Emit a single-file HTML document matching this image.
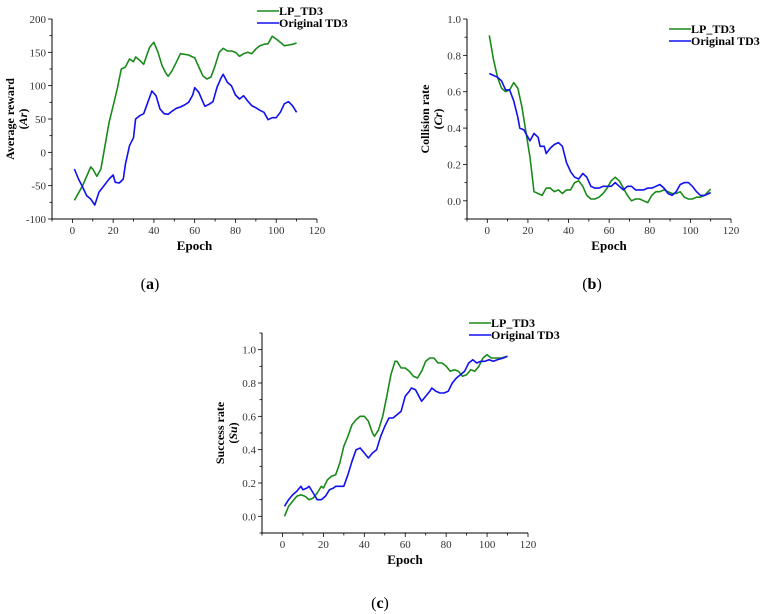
<!DOCTYPE html>
<html><head><meta charset="utf-8">
<style>
body{margin:0;background:#fff;width:761px;height:614px;overflow:hidden}
svg{position:absolute;left:0;top:0}
text{font-family:"Liberation Serif",serif}
</style></head>
<body>
<svg id="fig" width="761" height="614"></svg>
<script>
// ---- Panel (a) data: average reward ----
const aGreenEpochs=[1,5,9,10,12,14,16,18,20,22,24,26,28,30,31,33,35,37,38,40,42,44,46,47,49,51,53,55,57,59,60,62,64,66,68,70,72,74,76,78,80,82,84,86,88,90,92,94,96,98,100,102,104,106,108,110];
const aGreenValues=[-72,-50,-22,-25,-36,-25,10,45,70,95,125,128,140,136,143,138,132,150,158,165,150,130,118,114,123,135,148,147,146,143,142,128,115,110,113,130,150,156,152,152,150,144,148,150,148,155,160,162,163,174,170,165,160,161,162,164];
const aBlueEpochs=[1,3,5,7,9,11,13,15,17,18,20,21,23,25,26,28,30,31,33,35,37,39,41,43,45,47,49,51,53,55,57,59,60,62,64,65,67,69,71,73,74,76,78,80,82,84,86,88,90,92,94,96,98,100,102,104,106,108,110];
const aBlueValues=[-25,-40,-52,-65,-70,-79,-60,-52,-44,-40,-34,-45,-46,-40,-18,10,22,50,55,58,75,92,85,65,58,57,62,66,68,71,75,86,97,90,76,69,72,76,98,112,117,105,100,86,80,85,77,70,67,63,60,49,52,52,60,73,76,70,60];
const aYTicks=[-100,-50,0,50,100,150,200];
// ---- Panel (b) data: collision rate ----
const bGreenEpochs=[1,3,5,7,9,11,13,15,17,19,21,23,25,27,29,31,33,35,37,39,41,43,45,47,49,51,53,55,57,59,61,63,65,67,69,71,73,75,77,79,81,83,85,87,89,91,93,95,97,99,101,103,105,107,110];
const bGreenValues=[0.91,0.78,0.68,0.62,0.60,0.61,0.65,0.62,0.52,0.38,0.24,0.05,0.04,0.03,0.07,0.07,0.05,0.06,0.04,0.06,0.06,0.10,0.11,0.08,0.03,0.01,0.01,0.02,0.04,0.07,0.11,0.13,0.11,0.07,0.03,0.00,0.01,0.01,0.00,-0.01,0.03,0.05,0.05,0.06,0.05,0.04,0.04,0.05,0.02,0.01,0.01,0.02,0.02,0.03,0.065];
const bBlueEpochs=[1,3,5,7,9,11,13,15,16,18,20,21,23,25,26,28,29,31,33,35,37,39,41,43,45,47,49,51,53,55,57,59,61,63,65,67,69,71,73,75,77,79,81,83,85,87,89,91,93,95,97,99,101,103,105,107,110];
const bBlueValues=[0.70,0.69,0.68,0.66,0.61,0.61,0.55,0.46,0.40,0.39,0.35,0.33,0.37,0.35,0.30,0.30,0.26,0.29,0.31,0.32,0.30,0.21,0.16,0.13,0.12,0.15,0.13,0.08,0.07,0.07,0.08,0.08,0.08,0.10,0.08,0.06,0.08,0.08,0.06,0.06,0.06,0.07,0.07,0.08,0.09,0.07,0.04,0.03,0.05,0.09,0.10,0.10,0.08,0.05,0.03,0.03,0.045];
const bYTicks=[0.0,0.2,0.4,0.6,0.8,1.0];
// ---- Panel (c) data: success rate ----
const cGreenEpochs=[1,3,5,7,9,11,13,15,17,19,20,22,24,26,28,30,32,34,36,38,40,42,44,45,47,49,51,53,55,56,58,60,62,64,66,68,70,72,74,76,78,80,82,84,86,88,90,92,94,96,98,100,102,104,107,110];
const cGreenValues=[0.0,0.06,0.09,0.12,0.13,0.12,0.10,0.11,0.14,0.18,0.17,0.22,0.24,0.25,0.32,0.42,0.48,0.55,0.58,0.60,0.60,0.57,0.50,0.48,0.52,0.60,0.72,0.85,0.93,0.93,0.89,0.89,0.87,0.84,0.83,0.87,0.93,0.95,0.95,0.92,0.92,0.90,0.87,0.88,0.87,0.84,0.85,0.88,0.87,0.90,0.95,0.97,0.95,0.95,0.95,0.96];
const cBlueEpochs=[1,3,5,7,9,10,12,13,15,17,19,21,23,25,26,28,30,32,34,36,38,40,42,44,46,48,50,52,54,56,58,60,62,63,65,68,70,72,73,75,77,79,81,83,85,87,89,91,93,95,97,99,101,103,105,108,110];
const cBlueValues=[0.06,0.10,0.13,0.15,0.18,0.16,0.17,0.18,0.14,0.10,0.10,0.12,0.16,0.17,0.18,0.18,0.18,0.25,0.33,0.40,0.41,0.38,0.35,0.38,0.40,0.48,0.54,0.59,0.59,0.61,0.63,0.72,0.75,0.77,0.76,0.69,0.72,0.75,0.77,0.75,0.74,0.74,0.75,0.80,0.83,0.85,0.87,0.92,0.94,0.92,0.93,0.93,0.94,0.93,0.94,0.95,0.96];
const cYTicks=[0.0,0.2,0.4,0.6,0.8,1.0];
const xTicks=[0,20,40,60,80,100,120];

const NS="http://www.w3.org/2000/svg";
const svg=document.getElementById('fig');
function mk(tag,attrs,parent){const e=document.createElementNS(NS,tag);for(const k in attrs)e.setAttribute(k,attrs[k]);(parent||svg).appendChild(e);return e;}

function panel(p){
  const g=mk('g',{});
  
  
  const sx=v=>p.x0+(v-p.xd[0])/(p.xd[1]-p.xd[0])*(p.x1-p.x0);
  const sy=v=>p.y0+(v-p.yd[0])/(p.yd[1]-p.yd[0])*(p.y1-p.y0);
  const ax=mk('path',{d:`M${p.x0},${p.y1}V${p.y0}H${p.x1}`,stroke:'#000','stroke-width':1,fill:'none'},g);
  
  
  for(let v=-10;v<=120;v+=10){
    const X=sx(v);const major=v%20===0;
    mk('line',{x1:X,x2:X,y1:p.y0,y2:p.y0+(major?4:2.5),stroke:'#000','stroke-width':0.8},g);
  }
  xTicks.forEach(v=>{
    const t=mk('text',{x:sx(v),y:p.y0+15,'font-size':11,'text-anchor':'middle',fill:'#333'},g);
    t.textContent=v;
    
    
  });
  const step=p.yTicks[1]-p.yTicks[0];
  for(let i=0;i<p.yTicks.length;i++){
    const v=p.yTicks[i];
    mk('line',{x1:p.x0-4,x2:p.x0,y1:sy(v),y2:sy(v),stroke:'#000','stroke-width':0.8},g);
    const m=v+step/2; if(sy(m)>=p.y1-0.5) mk('line',{x1:p.x0-2.5,x2:p.x0,y1:sy(m),y2:sy(m),stroke:'#000','stroke-width':0.8},g);
    if(i===0){const m2=v-step/2; if(sy(m2)<=p.y0+0.5) mk('line',{x1:p.x0-2.5,x2:p.x0,y1:sy(m2),y2:sy(m2),stroke:'#000','stroke-width':0.8},g);}
    const t=mk('text',{x:p.x0-6,y:sy(v)+4,'font-size':11,'text-anchor':'end',fill:'#333'},g);
    t.textContent=p.dec?v.toFixed(1):v;
    
    
  }
  const xt=mk('text',{x:(p.x0+p.x1)/2+10,y:p.y0+31,'font-size':13,'font-weight':'bold','text-anchor':'middle'},g);
  xt.textContent='Epoch';
  
  
  const ym=(p.y0+p.y1)/2;
  const yt=mk('text',{x:0,y:0,'font-size':12,'font-weight':'bold','text-anchor':'middle',transform:`translate(${p.x0-38},${ym}) rotate(-90)`},g);
  yt.textContent=p.ytitle;
  
  
  const yt2=mk('text',{x:0,y:0,'font-size':12,'font-weight':'bold','text-anchor':'middle',transform:`translate(${p.x0-25},${ym}) rotate(-90)`},g);
  yt2.innerHTML='(<tspan font-style="italic">'+p.sym+'</tspan>)';
  
  
  const series=[[p.gE,p.gV,'#1a8a1a','lp-td3-line'],[p.bE,p.bV,'#1010f0','original-td3-line']];
  series.forEach(s=>{
    const d=s[0].map((e,i)=>(i?'L':'M')+sx(e).toFixed(1)+','+sy(s[1][i]).toFixed(1)).join('');
    const l=mk('path',{d:d,stroke:s[2],'stroke-width':1.6,fill:'none','stroke-linejoin':'round'},g);
    
    
  });
  [['LP_TD3','#1a8a1a',p.lg[1]],['Original TD3','#1010f0',p.lg[1]+12]].forEach((L,i)=>{
    const lg=mk('g',{},g);
    
    
    mk('line',{x1:p.lg[0],x2:p.lg[0]+22,y1:L[2],y2:L[2],stroke:L[1],'stroke-width':1.5},lg);
    const t=mk('text',{x:p.lg[0]+22,y:L[2]+4,'font-size':12,'font-weight':'bold'},lg);
    t.textContent=L[0];
  });
  const lab=mk('text',{x:p.lab[0],y:p.lab[1],'font-size':16,'text-anchor':'middle'},g);
  lab.innerHTML='(<tspan font-weight="bold">'+p.letter+'</tspan>)';
  
  
}
panel({name:'chart-a-average-reward',x0:52,x1:317,y0:219,y1:19,xd:[-10,120],yd:[-100,200],yTicks:aYTicks,dec:false,ytitle:'Average reward',sym:'Ar',gE:aGreenEpochs,gV:aGreenValues,bE:aBlueEpochs,bV:aBlueValues,lg:[257,11],lab:[150,289],letter:'a'});
panel({name:'chart-b-collision-rate',x0:467,x1:731,y0:219,y1:19,xd:[-10,120],yd:[-0.1,1.0],yTicks:bYTicks,dec:true,ytitle:'Collision rate',sym:'Cr',gE:bGreenEpochs,gV:bGreenValues,bE:bBlueEpochs,bV:bBlueValues,lg:[669,29],lab:[592,289],letter:'b'});
panel({name:'chart-c-success-rate',x0:262,x1:528,y0:533,y1:333,xd:[-10,120],yd:[-0.1,1.1],yTicks:cYTicks,dec:true,ytitle:'Success rate',sym:'Su',gE:cGreenEpochs,gV:cGreenValues,bE:cBlueEpochs,bV:cBlueValues,lg:[469,323],lab:[380,608],letter:'c'});
</script>
</body></html>
